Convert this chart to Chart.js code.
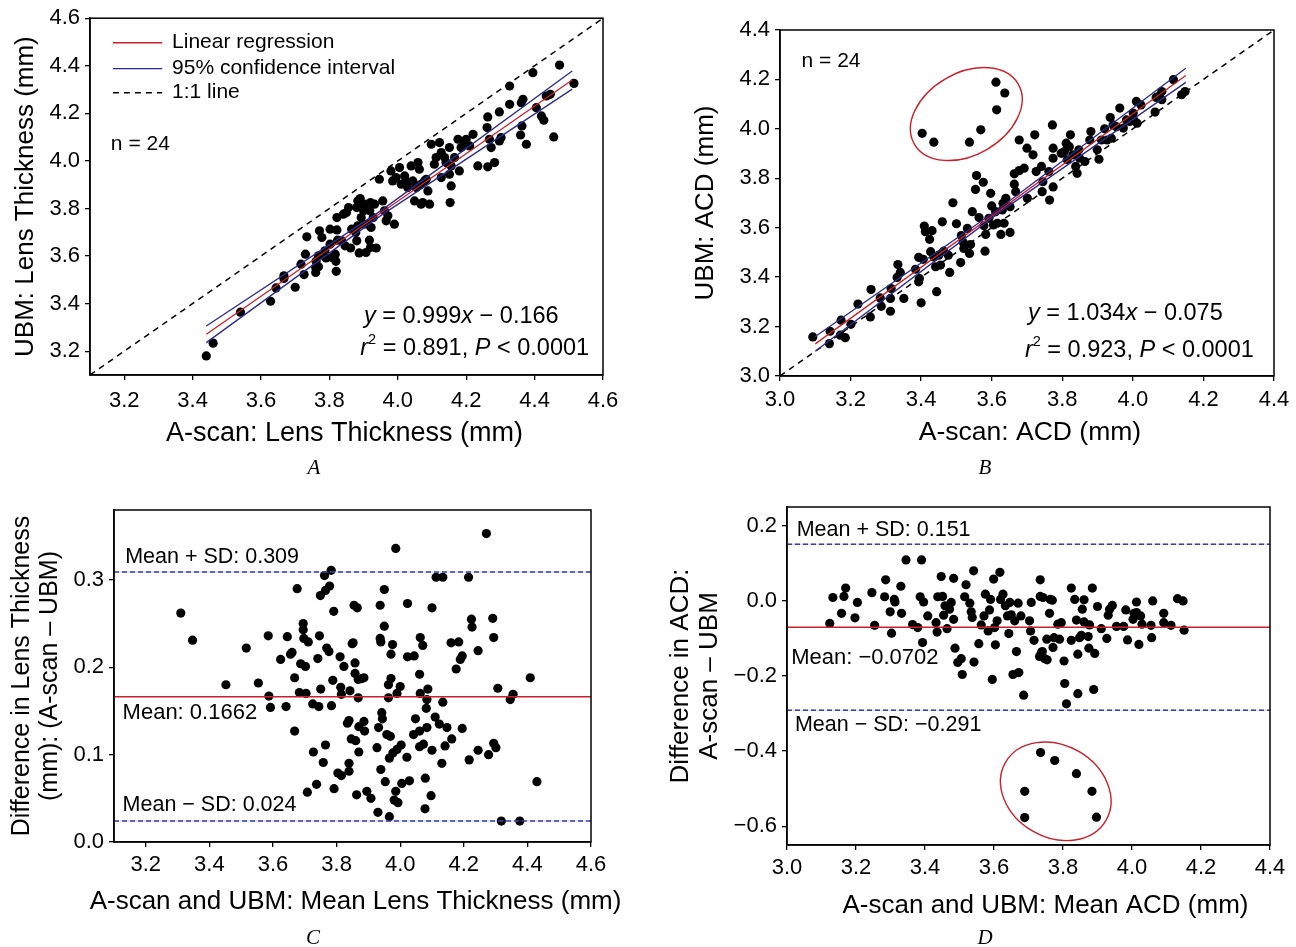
<!DOCTYPE html>
<html>
<head>
<meta charset="utf-8">
<script src="https://cdn.jsdelivr.net/npm/chart.js@4.4.1/dist/chart.umd.min.js"></script>
<style>
  body { margin: 0; background: #fff; }
  #wrap { position: relative; width: 1296px; height: 947px; overflow: hidden; }
  canvas { position: absolute; }
  .tag { position: absolute; font: italic 21px "Liberation Serif", "DejaVu Serif", serif; transform: translate(-50%, -50%); }
</style>
</head>
<body>
<div id="wrap">
  <canvas id="chartA" width="648" height="480" style="left:0;top:0"></canvas>
  <canvas id="chartB" width="648" height="480" style="left:648px;top:0"></canvas>
  <canvas id="chartC" width="648" height="467" style="left:0;top:480px"></canvas>
  <canvas id="chartD" width="648" height="467" style="left:648px;top:480px"></canvas>
  <div class="tag" style="left:314px;top:467px">A</div>
  <div class="tag" style="left:985px;top:467px">B</div>
  <div class="tag" style="left:313px;top:937px">C</div>
  <div class="tag" style="left:985px;top:937px">D</div>
</div>
<script>
// tick values
const ticksLT = [3.2, 3.4, 3.6, 3.8, 4.0, 4.2, 4.4, 4.6];
const ticksACD = [3.0, 3.2, 3.4, 3.6, 3.8, 4.0, 4.2, 4.4];
const ticksLTDiff = [0.0, 0.1, 0.2, 0.3];
const ticksACDDiff = [-0.6, -0.4, -0.2, 0.0, 0.2];

// A: lens thickness, A-scan (x) vs UBM (y)
const lensPoints = [
  [3.44,3.18],[3.46,3.234],[3.54,3.364],[3.628,3.41],[3.644,3.466],[3.667,3.506],[3.667,3.517],[3.70,3.469],
  [3.726,3.522],[3.717,3.566],[3.73,3.608],[3.734,3.681],[3.76,3.531],[3.76,3.552],[3.768,3.555],[3.761,3.578],
  [3.768,3.601],[3.771,3.706],[3.778,3.678],[3.787,3.622],[3.79,3.592],[3.802,3.65],[3.802,3.713],[3.807,3.594],
  [3.817,3.608],[3.819,3.578],[3.82,3.536],[3.822,3.762],[3.822,3.71],[3.824,3.667],[3.836,3.664],[3.841,3.776],
  [3.846,3.643],[3.85,3.783],[3.856,3.804],[3.862,3.634],[3.865,3.713],[3.877,3.699],[3.88,3.664],[3.88,3.804],
  [3.887,3.613],[3.89,3.842],[3.90,3.79],[3.90,3.734],[3.883,3.832],[3.902,3.818],[3.893,3.762],[3.883,3.727],
  [3.92,3.825],[3.932,3.818],[3.918,3.79],[3.928,3.762],[3.912,3.734],[3.922,3.72],[3.907,3.615],[3.92,3.636],
  [3.937,3.634],[3.917,3.667],[3.946,3.923],[3.956,3.832],[3.961,3.79],[3.966,3.748],[3.971,3.769],[3.99,3.734],
  [3.98,3.958],[3.985,3.916],[3.995,3.93],[4.005,3.972],[4.01,3.902],[4.02,3.937],[4.024,3.916],[4.029,3.888],
  [4.039,3.979],[4.044,3.916],[4.059,3.993],[4.063,3.965],[4.054,3.888],[4.068,3.902],[4.078,3.916],[4.088,3.874],
  [4.049,3.832],[4.068,3.818],[4.073,3.825],[4.093,3.818],[4.083,3.923],[4.098,4.07],[4.107,3.986],[4.112,4.014],
  [4.122,4.077],[4.127,4.035],[4.127,3.93],[4.137,4.014],[4.141,3.993],[4.151,4.056],[4.151,3.944],[4.156,3.979],
  [4.156,3.895],[4.153,3.825],[4.166,4.014],[4.176,4.091],[4.18,3.958],[4.185,4.056],[4.195,4.077],[4.20,4.091],
  [4.21,4.063],[4.22,4.112],[4.234,3.979],[4.263,3.975],[4.283,3.993],[4.273,4.056],[4.268,4.091],[4.297,4.084],
  [4.302,4.098],[4.261,4.14],[4.263,4.185],[4.297,4.206],[4.327,4.238],[4.327,4.315],[4.361,4.245],[4.366,4.259],
  [4.363,4.147],[4.359,4.109],[4.376,4.07],[4.395,4.371],[4.405,4.224],[4.42,4.189],[4.427,4.171],[4.434,4.273],
  [4.446,4.28],[4.456,4.101],[4.473,4.403],[4.515,4.326]
];
const lensFit = [[3.44,3.271],[4.51,4.340]];
const lensCiHigh = [[3.44,3.306],[3.95,3.790],[4.51,4.378]];
const lensCiLow = [[3.44,3.236],[3.95,3.770],[4.51,4.302]];
const lensIdentity = [[3.1,3.1],[4.6,4.6]];

// B: ACD, A-scan (x) vs UBM (y)
const acdPoints = [
  [3.403,3.982],[3.436,3.946],[3.537,3.946],[3.569,3.996],[3.614,4.077],[3.612,4.189],[3.637,4.145],
  [3.093,3.158],[3.14,3.131],[3.142,3.181],[3.171,3.165],[3.173,3.226],[3.185,3.155],[3.201,3.209],[3.221,3.291],
  [3.256,3.239],[3.258,3.35],[3.284,3.316],[3.287,3.282],[3.313,3.314],[3.313,3.262],[3.315,3.354],[3.332,3.399],
  [3.341,3.419],[3.334,3.451],[3.351,3.314],[3.384,3.432],[3.393,3.48],[3.395,3.395],[3.393,3.381],[3.40,3.296],
  [3.406,3.472],[3.409,3.607],[3.412,3.584],[3.424,3.553],[3.431,3.588],[3.427,3.503],[3.436,3.482],[3.441,3.442],
  [3.444,3.341],[3.45,3.489],[3.455,3.449],[3.46,3.624],[3.464,3.505],[3.477,3.489],[3.481,3.419],[3.49,3.701],
  [3.50,3.616],[3.512,3.459],[3.514,3.568],[3.519,3.541],[3.521,3.516],[3.531,3.597],[3.537,3.496],[3.54,3.532],
  [3.545,3.665],[3.554,3.755],[3.557,3.811],[3.564,3.641],[3.576,3.784],[3.578,3.608],[3.581,3.505],[3.583,3.573],
  [3.592,3.638],[3.597,3.739],[3.60,3.688],[3.605,3.611],[3.611,3.665],[3.616,3.618],[3.626,3.573],[3.63,3.672],
  [3.632,3.699],[3.635,3.618],[3.64,3.719],[3.652,3.581],[3.652,3.685],[3.664,3.776],[3.668,3.746],[3.664,3.818],
  [3.678,3.831],[3.678,3.955],[3.70,3.922],[3.692,3.841],[3.701,3.719],[3.722,3.976],[3.717,3.895],[3.726,3.827],
  [3.741,3.848],[3.745,3.786],[3.743,3.746],[3.762,3.827],[3.764,3.712],[3.774,3.765],[3.772,4.016],[3.774,3.922],
  [3.774,3.881],[3.797,3.901],[3.806,3.908],[3.811,3.942],[3.814,3.875],[3.82,3.928],[3.823,3.976],[3.83,3.895],
  [3.838,3.848],[3.842,3.82],[3.847,3.915],[3.849,3.881],[3.864,3.868],[3.878,3.955],[3.881,3.989],[3.899,3.915],
  [3.904,3.877],[3.911,3.955],[3.92,4.0],[3.927,3.955],[3.936,4.046],[3.939,3.962],[3.944,4.016],[3.953,4.009],
  [3.963,4.084],[3.973,4.003],[3.982,4.036],[3.991,4.03],[4.001,4.064],[4.001,4.041],[4.01,4.111],[4.012,4.023],
  [4.023,4.097],[4.063,4.068],[4.066,4.127],[4.072,4.131],[4.082,4.118],[4.082,4.151],[4.115,4.199],[4.138,4.138],
  [4.148,4.151]
];
const acdFit = [[3.1,3.130],[4.15,4.216]];
const acdCiHigh = [[3.1,3.160],[3.62,3.676],[4.15,4.245]];
const acdCiLow = [[3.1,3.100],[3.62,3.660],[4.15,4.188]];
const acdIdentity = [[3.0,3.0],[4.4,4.4]];

// C: lens thickness, mean (x) vs difference (y)
const lensDiffPoints = [
  [3.31,0.262],[3.347,0.231],[3.452,0.18],[3.516,0.222],[3.554,0.182],[3.585,0.236],[3.587,0.167],[3.592,0.154],
  [3.624,0.209],[3.641,0.155],[3.645,0.235],[3.655,0.215],[3.66,0.217],[3.668,0.188],[3.668,0.127],[3.676,0.29],
  [3.683,0.171],[3.687,0.204],[3.695,0.25],[3.695,0.243],[3.697,0.233],[3.702,0.201],[3.704,0.17],[3.708,0.057],
  [3.711,0.229],[3.725,0.158],[3.727,0.103],[3.737,0.066],[3.741,0.21],[3.744,0.155],[3.746,0.236],[3.749,0.282],
  [3.75,0.175],[3.758,0.091],[3.762,0.305],[3.765,0.288],[3.765,0.111],[3.769,0.222],[3.776,0.218],[3.778,0.293],
  [3.783,0.311],[3.784,0.156],[3.788,0.185],[3.791,0.264],[3.792,0.061],[3.804,0.079],[3.811,0.212],[3.813,0.177],
  [3.815,0.076],[3.815,0.169],[3.823,0.201],[3.834,0.136],[3.839,0.139],[3.839,0.09],[3.839,0.081],[3.842,0.173],
  [3.846,0.118],[3.849,0.227],[3.852,0.228],[3.855,0.271],[3.858,0.205],[3.858,0.193],[3.86,0.116],[3.863,0.054],
  [3.865,0.268],[3.868,0.186],[3.87,0.103],[3.87,0.132],[3.868,0.165],[3.879,0.187],[3.886,0.188],[3.886,0.138],
  [3.888,0.127],[3.895,0.058],[3.908,0.05],[3.927,0.108],[3.932,0.131],[3.937,0.271],[3.937,0.233],[3.939,0.229],
  [3.939,0.083],[3.942,0.148],[3.944,0.141],[3.95,0.289],[3.95,0.247],[3.953,0.069],[3.958,0.123],[3.963,0.18],
  [3.966,0.096],[3.969,0.121],[3.966,0.029],[3.93,0.034],[3.963,0.165],[3.971,0.215],[3.971,0.187],[3.976,0.226],
  [3.977,0.102],[3.981,0.048],[3.986,0.058],[3.99,0.17],[3.993,0.045],[3.99,0.106],[3.986,0.336],[4.0,0.178],
  [4.003,0.111],[4.005,0.067],[4.021,0.097],[4.023,0.273],[4.023,0.212],[4.029,0.07],[4.044,0.213],[4.048,0.141],
  [4.042,0.123],[4.063,0.234],[4.061,0.192],[4.063,0.17],[4.061,0.127],[4.061,0.109],[4.071,0.225],[4.073,0.112],
  [4.079,0.073],[4.078,0.038],[4.082,0.153],[4.084,0.163],[4.087,0.175],[4.084,0.131],[4.097,0.053],[4.1,0.268],
  [4.1,0.105],[4.11,0.143],[4.113,0.303],[4.123,0.135],[4.131,0.09],[4.134,0.303],[4.134,0.16],[4.141,0.11],
  [4.147,0.131],[4.16,0.228],[4.162,0.118],[4.176,0.198],[4.184,0.229],[4.189,0.209],[4.195,0.213],[4.195,0.13],
  [4.215,0.303],[4.217,0.094],[4.224,0.255],[4.226,0.246],[4.245,0.219],[4.245,0.105],[4.271,0.353],[4.278,0.1],
  [4.291,0.256],[4.294,0.234],[4.294,0.113],[4.301,0.108],[4.307,0.176],[4.318,0.024],[4.346,0.163],[4.355,0.169],
  [4.376,0.024],[4.409,0.188],[4.43,0.069]
];
const lensLimits = [0.309, 0.1662, 0.024];   // mean + SD, mean, mean - SD

// D: ACD, mean (x) vs difference (y)
const acdDiffPoints = [
  [3.124,-0.06],[3.133,0.009],[3.158,-0.033],[3.165,0.012],[3.17,0.034],[3.197,-0.045],[3.204,-0.004],[3.246,0.022],
  [3.254,-0.065],[3.283,0.011],[3.286,0.056],[3.299,-0.029],[3.303,-0.086],[3.311,0.004],[3.313,-0.003],[3.33,0.039],
  [3.332,-0.033],[3.345,0.109],[3.364,-0.063],[3.379,-0.071],[3.39,0.109],[3.386,0.011],[3.396,-0.003],[3.393,-0.111],
  [3.408,-0.04],[3.432,-0.058],[3.435,-0.083],[3.437,0.011],[3.447,0.065],[3.451,0.012],[3.454,-0.038],[3.458,-0.013],
  [3.464,-0.074],[3.471,-0.022],[3.476,-0.004],[3.483,-0.049],[3.483,0.06],[3.487,-0.126],[3.495,-0.164],[3.505,-0.154],
  [3.508,-0.196],[3.515,0.011],[3.519,0.043],[3.53,-0.006],[3.534,-0.029],[3.537,-0.044],[3.541,0.08],[3.542,-0.163],
  [3.556,-0.114],[3.563,-0.064],[3.571,-0.04],[3.575,0.018],[3.583,-0.08],[3.587,-0.024],[3.59,0.004],[3.595,-0.209],
  [3.599,0.058],[3.602,-0.071],[3.604,-0.117],[3.609,-0.053],[3.617,0.076],[3.619,0.004],[3.626,0.018],[3.633,-0.013],
  [3.639,-0.04],[3.643,-0.087],[3.646,-0.004],[3.65,-0.037],[3.655,-0.196],[3.66,-0.053],[3.665,-0.135],[3.67,-0.006],
  [3.672,-0.191],[3.678,-0.04],[3.686,-0.251],[3.703,-0.053],[3.708,-0.004],[3.706,-0.08],[3.716,-0.105],[3.734,0.056],
  [3.734,0.012],[3.742,0.009],[3.737,-0.138],[3.732,-0.148],[3.74,-0.135],[3.747,-0.154],[3.754,-0.157],[3.753,-0.102],
  [3.761,-0.033],[3.763,0.004],[3.769,0.002],[3.771,-0.124],[3.774,-0.098],[3.785,-0.062],[3.79,-0.102],[3.795,-0.058],
  [3.803,-0.16],[3.805,-0.22],[3.81,-0.274],[3.824,0.034],[3.824,-0.105],[3.834,0.004],[3.839,-0.051],[3.843,-0.142],
  [3.843,-0.247],[3.848,-0.098],[3.853,-0.092],[3.856,-0.022],[3.861,0.003],[3.861,-0.056],[3.873,-0.095],[3.875,-0.126],
  [3.877,-0.064],[3.885,0.034],[3.889,-0.236],[3.892,-0.14],[3.9,-0.015],[3.911,-0.074],[3.927,-0.1],[3.931,-0.038],
  [3.935,-0.022],[3.943,-0.012],[3.955,-0.068],[3.976,-0.068],[3.982,-0.024],[3.987,-0.104],[4.003,-0.049],[4.006,-0.033],
  [4.013,-0.003],[4.013,-0.031],[4.02,-0.116],[4.025,-0.04],[4.029,-0.062],[4.055,-0.065],[4.057,-0.098],[4.06,0.0],
  [4.092,-0.033],[4.092,-0.058],[4.113,-0.065],[4.132,0.006],[4.148,0.0],[4.151,-0.078],
  [3.689,-0.507],[3.689,-0.577],[3.735,-0.404],[3.776,-0.425],[3.839,-0.46],[3.884,-0.507],[3.897,-0.576]
];
const acdLimits = [0.151, -0.0702, -0.291];

const FONT = '"Liberation Sans", Arial, Helvetica, sans-serif';
const RED = '#cc1f2b';
const NAVY = '#2a2a92';
const SD_BLUE = '#3a3aa6';
const SD_UNDER = 'rgba(110, 110, 170, 0.35)';

Chart.defaults.font.family = FONT;
Chart.defaults.color = '#000';

function fmt(v) {
  const s = Math.abs(v) < 1e-9 ? '0.0' : v.toFixed(1);
  return s.replace('-', '\u2212');
}

function toXY(pairs) {
  return pairs.map(p => ({ x: p[0], y: p[1] }));
}

function dots(pairs) {
  return { data: toXY(pairs), showLine: false, pointRadius: 4.6, pointHoverRadius: 4.6,
           pointBackgroundColor: '#000', pointBorderWidth: 0 };
}

function path(pairs, color, width, dash) {
  return { data: toXY(pairs), showLine: true, borderColor: color, borderWidth: width,
           borderDash: dash || [], pointRadius: 0, pointHoverRadius: 0, fill: false };
}

function hline(value, lo, hi, color, width, dash) {
  return path([[lo, value], [hi, value]], color, width, dash);
}

function xAxis(min, max, ticks, boxH, tickPad) {
  return {
    type: 'linear', position: 'bottom', min, max,
    afterBuildTicks: s => { s.ticks = ticks.map(v => ({ value: v })); },
    afterFit: s => { s.height = boxH; },
    ticks: { autoSkip: false, maxRotation: 0, padding: tickPad, font: { size: 22 }, callback: fmt },
    grid: { drawOnChartArea: false, tickLength: 5, color: '#000', lineWidth: 1.3 },
    border: { color: '#000', width: 1.5 }
  };
}

function yAxis(min, max, ticks, title, boxW, titlePad, size, lh) {
  return {
    type: 'linear', position: 'left', min, max,
    afterBuildTicks: s => { s.ticks = ticks.map(v => ({ value: v })); },
    afterFit: s => { s.width = boxW; },
    ticks: { autoSkip: false, padding: 5, font: { size: 22 }, callback: fmt },
    grid: { drawOnChartArea: false, tickLength: 5, color: '#000', lineWidth: 1.3 },
    border: { color: '#000', width: 1.5 },
    title: { display: true, text: title, font: { size: size, lineHeight: lh || 1.2 }, padding: { top: titlePad, bottom: 0 } }
  };
}

// text with italic / superscript parts
function drawRich(ctx, parts, x, y, size) {
  let cx = x;
  parts.forEach(p => {
    const sup = p[1] === 's';
    const s = sup ? size * 0.62 : size;
    ctx.font = (p[1] === 'i' ? 'italic ' : '') + s + 'px ' + FONT;
    ctx.fillText(p[0], cx, sup ? y - size * 0.36 : y);
    cx += ctx.measureText(p[0]).width;
  });
}

const notesPlugin = {
  id: 'notes',
  afterDatasetsDraw(chart, args, opts) {
    const { ctx, chartArea: a } = chart;
    const sx = chart.scales.x, sy = chart.scales.y;
    ctx.save();
    ctx.fillStyle = '#000';
    ctx.textBaseline = 'middle';
    ctx.textAlign = 'left';
    (opts.legend || []).forEach(it => {
      const py = sy.getPixelForValue(it.y);
      ctx.strokeStyle = it.color;
      ctx.lineWidth = it.width;
      ctx.setLineDash(it.dash || []);
      ctx.beginPath();
      ctx.moveTo(sx.getPixelForValue(it.x0), py);
      ctx.lineTo(sx.getPixelForValue(it.x1), py);
      ctx.stroke();
      ctx.setLineDash([]);
      drawRich(ctx, [[it.label]], sx.getPixelForValue(it.tx), py, 21);
    });
    (opts.texts || []).forEach(t => {
      drawRich(ctx, t.parts, sx.getPixelForValue(t.x), sy.getPixelForValue(t.y), t.size || 21);
    });
    if (opts.ellipse) {
      const e = opts.ellipse;
      ctx.strokeStyle = RED;
      ctx.lineWidth = 1.4;
      ctx.beginPath();
      ctx.ellipse(sx.getPixelForValue(e.x), sy.getPixelForValue(e.y), e.rx, e.ry, e.rot, 0, Math.PI * 2);
      ctx.stroke();
    }
    if (opts.xTitle) {
      const t = opts.xTitle;
      ctx.font = t.size + 'px ' + FONT;
      ctx.textAlign = 'center';
      ctx.fillText(t.text, (a.left + a.right) / 2 + t.dx, t.y);
    }
    ctx.strokeStyle = '#000';
    ctx.lineWidth = 1.5;
    ctx.strokeRect(a.left, a.top, a.right - a.left, a.bottom - a.top);
    ctx.restore();
  }
};
Chart.register(notesPlugin);

function build(id, datasets, scales, pad, notes) {
  return new Chart(document.getElementById(id), {
    type: 'scatter',
    data: { datasets },
    options: {
      responsive: false,
      animation: false,
      devicePixelRatio: 1,
      layout: { padding: pad },
      scales,
      plugins: { legend: { display: false }, tooltip: { enabled: false }, notes }
    }
  });
}

// A
build('chartA', [
  path(lensFit, RED, 1.3),
  path(lensCiHigh, NAVY, 1.3),
  path(lensCiLow, NAVY, 1.3),
  path(lensIdentity, '#000', 1.5, [6, 5]),
  dots(lensPoints)
], {
  x: xAxis(3.1, 4.6, ticksLT, 105, 8),
  y: yAxis(3.1, 4.6, ticksLT, 'UBM: Lens Thickness (mm)', 90, 10, 26)
}, { left: 0, top: 17, right: 45, bottom: 0 }, {
  legend: [
    { label: 'Linear regression', color: RED, width: 1.4, x0: 3.167, x1: 3.311, tx: 3.340, y: 4.497 },
    { label: '95% confidence interval', color: NAVY, width: 1.4, x0: 3.167, x1: 3.311, tx: 3.340, y: 4.388 },
    { label: '1:1 line', color: '#000', width: 1.5, dash: [6, 5], x0: 3.167, x1: 3.311, tx: 3.340, y: 4.287 }
  ],
  texts: [
    { x: 3.161, y: 4.072, parts: [['n = 24']] },
    { x: 3.901, y: 3.347, size: 23.5, parts: [['y', 'i'], [' = 0.999'], ['x', 'i'], [' \u2212 0.166']] },
    { x: 3.890, y: 3.213, size: 23.5, parts: [['r', 'i'], ['2', 's'], [' = 0.891, '], ['P', 'i'], [' < 0.0001']] }
  ],
  xTitle: { text: 'A-scan: Lens Thickness (mm)', size: 27, y: 434, dx: -2 }
});

// B
build('chartB', [
  path(acdFit, RED, 1.3),
  path(acdCiHigh, NAVY, 1.3),
  path(acdCiLow, NAVY, 1.3),
  path(acdIdentity, '#000', 1.5, [6, 5]),
  dots(acdPoints)
], {
  x: xAxis(3.0, 4.4, ticksACD, 104, 6),
  y: yAxis(3.0, 4.4, ticksACD, 'UBM: ACD (mm)', 132, 42, 26)
}, { left: 0, top: 30, right: 22, bottom: 0 }, {
  texts: [
    { x: 3.061, y: 4.272, parts: [['n = 24']] },
    { x: 3.703, y: 3.254, size: 23.5, parts: [['y', 'i'], [' = 1.034'], ['x', 'i'], [' \u2212 0.075']] },
    { x: 3.694, y: 3.104, size: 23.5, parts: [['r', 'i'], ['2', 's'], [' = 0.923, '], ['P', 'i'], [' < 0.0001']] }
  ],
  ellipse: { x: 3.528, y: 4.060, rx: 60, ry: 41, rot: -Math.PI / 6 },
  xTitle: { text: 'A-scan: ACD (mm)', size: 26.5, y: 433, dx: 3 }
});

// C
build('chartC', [
  hline(lensLimits[0], 3.1, 4.6, SD_BLUE, 1.4, [5, 3]),
  hline(lensLimits[1], 3.1, 4.6, RED, 1.6),
  hline(lensLimits[2], 3.1, 4.6, SD_BLUE, 1.4, [5, 3]),
  hline(lensLimits[0], 3.1, 4.6, SD_UNDER, 1),
  hline(lensLimits[2], 3.1, 4.6, SD_UNDER, 1),
  dots(lensDiffPoints)
], {
  x: xAxis(3.1, 4.6, ticksLT, 105, 5),
  y: yAxis(0, 0.38, ticksLTDiff, ['Difference in Lens Thickness', '(mm): (A-scan \u2013 UBM)'], 114, 8, 25, 1.13)
}, { left: 0, top: 30, right: 57, bottom: 0 }, {
  texts: [
    { x: 3.135, y: 0.326, size: 21.5, parts: [['Mean + SD: 0.309']] },
    { x: 3.127, y: 0.148, size: 22, parts: [['Mean: 0.1662']] },
    { x: 3.127, y: 0.0426, size: 21.5, parts: [['Mean \u2212 SD: 0.024']] }
  ],
  xTitle: { text: 'A-scan and UBM: Mean Lens Thickness (mm)', size: 26, y: 422, dx: 3 }
});

// D
build('chartD', [
  hline(acdLimits[0], 3.0, 4.4, SD_BLUE, 1.4, [5, 3]),
  hline(acdLimits[1], 3.0, 4.4, RED, 1.6),
  hline(acdLimits[2], 3.0, 4.4, SD_BLUE, 1.4, [5, 3]),
  hline(acdLimits[0], 3.0, 4.4, SD_UNDER, 1),
  hline(acdLimits[2], 3.0, 4.4, SD_UNDER, 1),
  dots(acdDiffPoints)
], {
  x: xAxis(3.0, 4.4, ticksACD, 102, 5),
  y: yAxis(-0.65, 0.25, ticksACDDiff, ['Difference in ACD:', 'A-scan \u2013 UBM'], 139, 18, 26, 1.13)
}, { left: 0, top: 27, right: 26, bottom: 0 }, {
  texts: [
    { x: 3.028, y: 0.189, size: 21.5, parts: [['Mean + SD: 0.151']] },
    { x: 3.012, y: -0.153, size: 22, parts: [['Mean: \u22120.0702']] },
    { x: 3.023, y: -0.331, size: 21.5, parts: [['Mean \u2212 SD: \u22120.291']] }
  ],
  ellipse: { x: 3.779, y: -0.507, rx: 58, ry: 46, rot: Math.PI / 6 },
  xTitle: { text: 'A-scan and UBM: Mean ACD (mm)', size: 26, y: 426, dx: 17 }
});
</script>
</body>
</html>
